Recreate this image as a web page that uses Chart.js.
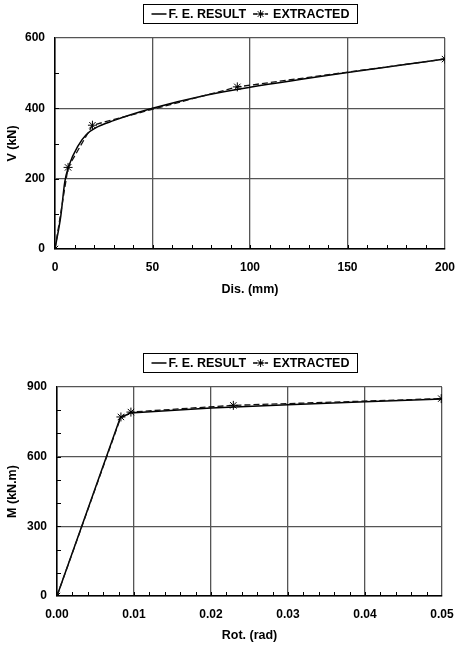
<!DOCTYPE html>
<html><head><meta charset="utf-8">
<script src="https://cdn.jsdelivr.net/npm/chart.js@4/dist/chart.umd.min.js"></script>
<style>
html,body{margin:0;padding:0;background:#fff;}
canvas{position:absolute;left:0;}
#c1{top:0;}
#c2{top:346px;}
</style></head><body>
<canvas id="c1" width="459" height="300"></canvas>
<canvas id="c2" width="459" height="300"></canvas>
<script>
const seriesNames = ['F. E. RESULT', 'EXTRACTED'];
// Chart 1: V vs displacement
const disFE = [0, 3, 5, 7, 12, 16, 21, 30, 50, 78, 100, 150, 200];
const vFE   = [0, 95, 190, 235, 295, 325, 345, 365, 400, 438, 460, 502, 540];
const disEx = [0, 6.7, 19.2, 93.5, 200];
const vEx   = [0, 232, 352, 461, 540];
const xTicks1 = [0, 50, 100, 150, 200];
const yTicks1 = [0, 200, 400, 600];
// Chart 2: M vs rotation
const rotFE = [0, 0.0082, 0.0095, 0.02, 0.03, 0.04, 0.05];
const mFE   = [0, 766, 788, 810, 824, 836, 848];
const rotEx = [0, 0.0083, 0.0096, 0.0229, 0.0499];
const mEx   = [0, 771, 792, 821, 850];
const xTicks2 = [0, 0.01, 0.02, 0.03, 0.04, 0.05];
const yTicks2 = [0, 300, 600, 900];

const FONT = '"Liberation Sans", Arial, Helvetica, sans-serif';

function drawStar(ctx, x, y, r){
  ctx.beginPath();
  ctx.moveTo(x - r, y); ctx.lineTo(x + r, y);
  ctx.moveTo(x, y - r); ctx.lineTo(x, y + r);
  const d = r * 0.7071;
  ctx.moveTo(x - d, y - d); ctx.lineTo(x + d, y + d);
  ctx.moveTo(x - d, y + d); ctx.lineTo(x + d, y - d);
  ctx.stroke();
}

const boxLegend = {
  id: 'boxLegend',
  afterDraw(chart, args, opts){
    const ctx = chart.ctx, ca = chart.chartArea, ds = chart.data.datasets;
    ctx.save();
    ctx.font = 'bold 12.5px ' + FONT;
    const sw = 15, pad = 8, g1 = 2, g2 = 7;
    const w1 = ctx.measureText(ds[0].label).width, w2 = ctx.measureText(ds[1].label).width;
    const W = Math.round(pad + sw + g1 + w1 + g2 + sw + g1 + 3 + w2 + pad);
    const H = 19;
    const x0 = Math.round((ca.left + ca.right) / 2 - W / 2) + 0.5;
    const y0 = opts.top + 0.5;
    ctx.fillStyle = '#fff'; ctx.fillRect(x0, y0, W, H);
    ctx.strokeStyle = '#000'; ctx.lineWidth = 1; ctx.strokeRect(x0, y0, W, H);
    const cy = y0 + H / 2;
    let x = x0 + pad;
    ctx.lineWidth = 1.5;
    ctx.beginPath(); ctx.moveTo(x, cy); ctx.lineTo(x + sw, cy); ctx.stroke();
    x += sw + g1;
    ctx.fillStyle = '#000'; ctx.textBaseline = 'middle'; ctx.textAlign = 'left';
    ctx.fillText(ds[0].label, x, cy + 0.5);
    x += w1 + g2;
    ctx.setLineDash([4, 2]);
    ctx.beginPath(); ctx.moveTo(x, cy); ctx.lineTo(x + sw, cy); ctx.stroke();
    ctx.setLineDash([]);
    ctx.lineWidth = 1;
    drawStar(ctx, x + sw / 2, cy, 4);
    x += sw + g1 + 3;
    ctx.fillText(ds[1].label, x, cy + 0.5);
    ctx.restore();
  }
};

const minorTicks = {
  id: 'minorTicks',
  beforeDatasetsDraw(chart, args, opts){
    const ctx = chart.ctx, ca = chart.chartArea;
    const xs = chart.scales.x, ys = chart.scales.y;
    ctx.save();
    ctx.strokeStyle = '#000'; ctx.lineWidth = 1;
    ctx.beginPath();
    const nx = Math.round((xs.max - xs.min) / opts.xStep);
    for (let i = 1; i < nx; i++){
      const px = Math.round(xs.getPixelForValue(xs.min + i * opts.xStep)) + 0.5;
      ctx.moveTo(px, ca.bottom); ctx.lineTo(px, ca.bottom - 4);
    }
    const ny = Math.round((ys.max - ys.min) / opts.yStep);
    for (let i = 1; i < ny; i++){
      const py = Math.round(ys.getPixelForValue(ys.min + i * opts.yStep)) + 0.5;
      ctx.moveTo(ca.left, py); ctx.lineTo(ca.left + 4, py);
    }
    ctx.stroke();
    ctx.restore();
  }
};

function makeChart(id, L){
  const canvasH = 300;
  return new Chart(document.getElementById(id), {
    type: 'scatter',
    data: {
      datasets: [
        {
          label: seriesNames[0],
          data: L.xFE.map((v, i) => ({x: v, y: L.yFE[i]})),
          showLine: true, borderColor: '#000', borderWidth: 1.5,
          pointRadius: 0, cubicInterpolationMode: L.smooth ? 'monotone' : 'default',
          tension: 0, order: 2
        },
        {
          label: seriesNames[1],
          data: L.xEx.map((v, i) => ({x: v, y: L.yEx[i]})),
          showLine: true, borderColor: '#111', borderWidth: 1.3, borderDash: [6, 3],
          pointStyle: 'star', pointRadius: 4.5, pointBorderWidth: 1,
          pointBorderColor: '#000', pointBackgroundColor: '#000', tension: 0, order: 1
        }
      ]
    },
    options: {
      responsive: false, animation: false, devicePixelRatio: 1,
      layout: {padding: {top: L.top, right: 459 - L.right, left: 0, bottom: 0}},
      plugins: {
        legend: {display: false}, tooltip: {enabled: false},
        boxLegend: {top: L.legendTop},
        minorTicks: {xStep: L.xMinor, yStep: L.yMinor}
      },
      scales: {
        x: {
          type: 'linear', min: L.xTicks[0], max: L.xTicks[L.xTicks.length - 1],
          afterBuildTicks: s => { s.ticks = L.xTicks.map(v => ({value: v})); },
          afterFit: s => { s.height = canvasH - L.bottom; s.paddingLeft = 0; s.paddingRight = 0; },
          grid: {color: '#555', lineWidth: 1.3, drawTicks: false},
          border: {color: '#000', width: 1.5},
          ticks: {color: '#000', padding: 11, maxRotation: 0,
            font: {family: FONT, size: 12, weight: 'bold'},
            callback: v => L.xFmt(v)},
          title: {display: true, text: L.xTitle, color: '#000',
            font: {family: FONT, size: 12.5, weight: 'bold'}, padding: {top: 0, bottom: 3}}
        },
        y: {
          type: 'linear', min: L.yTicks[0], max: L.yTicks[L.yTicks.length - 1],
          afterBuildTicks: s => { s.ticks = L.yTicks.map(v => ({value: v})); },
          afterFit: s => { s.width = L.left; s.paddingTop = 0; s.paddingBottom = 0; },
          grid: {color: '#555', lineWidth: 1.3, drawTicks: false},
          border: {color: '#000', width: 1.5},
          ticks: {color: '#000', padding: 10,
            font: {family: FONT, size: 12, weight: 'bold'},
            callback: v => String(v)},
          title: {display: true, text: L.yTitle, color: '#000',
            font: {family: FONT, size: 12.5, weight: 'bold'}, padding: {top: 5, bottom: 0}}
        }
      }
    },
    plugins: [boxLegend, minorTicks]
  });
}

makeChart('c1', {
  xFE: disFE, yFE: vFE, xEx: disEx, yEx: vEx, smooth: true,
  xTicks: xTicks1, yTicks: yTicks1, xMinor: 10, yMinor: 100,
  xFmt: v => String(v), xTitle: 'Dis. (mm)', yTitle: 'V (kN)',
  left: 55, right: 445, top: 38, bottom: 249, legendTop: 4
});
makeChart('c2', {
  xFE: rotFE, yFE: mFE, xEx: rotEx, yEx: mEx, smooth: false,
  xTicks: xTicks2, yTicks: yTicks2, xMinor: 0.002, yMinor: 100,
  xFmt: v => v.toFixed(2), xTitle: 'Rot. (rad)', yTitle: 'M (kN.m)',
  left: 57, right: 442, top: 41, bottom: 250, legendTop: 7
});
</script>
</body></html>
